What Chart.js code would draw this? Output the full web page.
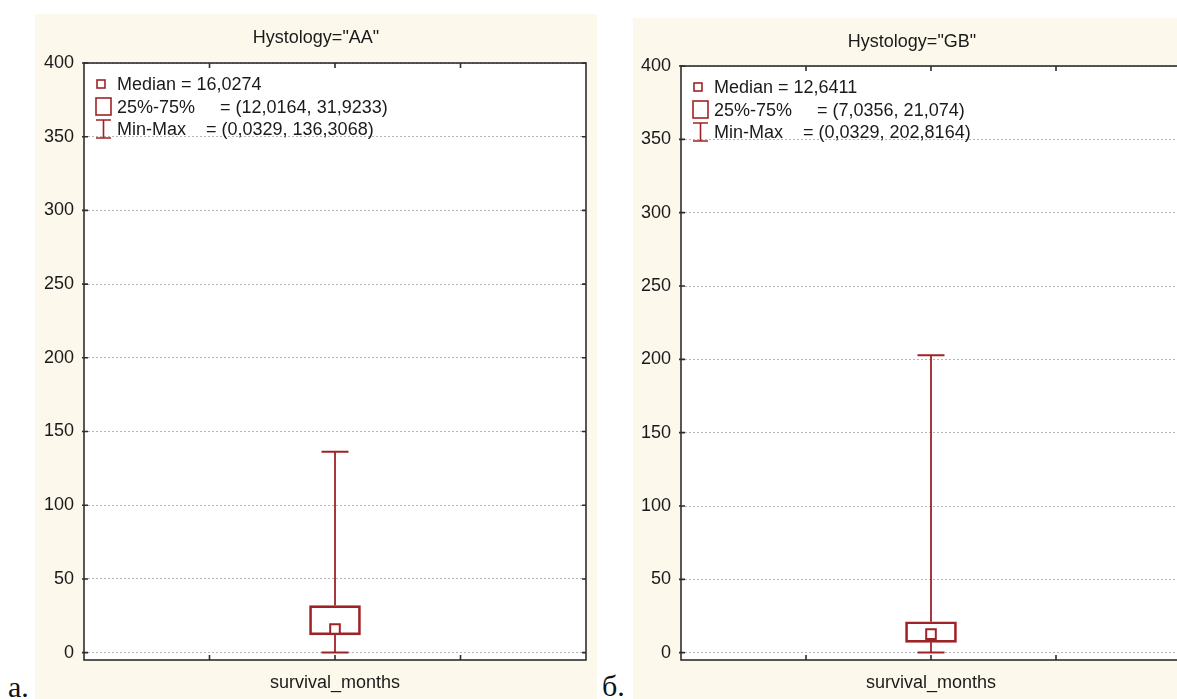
<!DOCTYPE html>
<html>
<head>
<meta charset="utf-8">
<script src="https://cdn.jsdelivr.net/npm/chart.js@4"></script>
<style>
  html, body { margin:0; padding:0; background:#ffffff; }
  html { overflow:hidden; }
  body { width:1177px; height:699px; overflow:hidden; position:relative; }
  .panel { position:absolute; background:#fdf8ec; overflow:hidden; }
  .inner { position:relative; }
  .inner canvas { display:block; }
  .tag { position:absolute; font-family:'Liberation Serif','Times New Roman',serif; font-size:30px; line-height:30px; color:#111; white-space:nowrap; }
</style>
</head>
<body>
<div class="panel" style="left:35px;top:14px;width:562px;height:685px;"><div class="inner" style="width:562px;height:685px;"><canvas id="ca"></canvas></div></div>
<div class="panel" style="left:633px;top:18px;width:544px;height:681px;"><div class="inner" style="width:558px;height:681px;"><canvas id="cb"></canvas></div></div>
<div class="tag" style="left:8px;top:672px;">a.</div>
<div class="tag" style="left:602px;top:671px;">б.</div>
<script>
// ---- data ----
const categories = ['', '', 'survival_months', '', ''];
const boxCategory = 'survival_months';
const panelTitles = ['Hystology="AA"', 'Hystology="GB"'];
const medianValues = [16.0274, 12.6411];
const q1Values = [12.0164, 7.0356];
const q3Values = [31.9233, 21.074];
const minValues = [0.0329, 0.0329];
const maxValues = [136.3068, 202.8164];
const yTickValues = [0, 50, 100, 150, 200, 250, 300, 350, 400];
const yMin = -5, yMax = 400;
const legendNames = ['Median', '25%-75%', 'Min-Max'];

// ---- styles ----
const RED = '#9e2327';
const FRAME = '#2e2e2e';
const TEXT = '#1a1a1a';
const FONT = "'Liberation Sans', Arial, sans-serif";

Chart.defaults.font.family = FONT;
Chart.defaults.font.size = 18;
Chart.defaults.color = TEXT;

const fmt = v => String(v).replace('.', ',');

const framePlugin = {
  id: 'frameAndLegend',
  beforeDatasetsDraw(chart) {
    const {ctx, chartArea: a} = chart;
    ctx.save();
    ctx.fillStyle = '#ffffff';
    ctx.fillRect(a.left, a.top, a.right - a.left, a.bottom - a.top);
    ctx.restore();
    chart.scales.y.drawGrid(a);
  },
  afterDraw(chart) {
    const {ctx, chartArea: a} = chart;
    const xs = chart.scales.x, ys = chart.scales.y;
    ctx.save();
    ctx.strokeStyle = FRAME;
    ctx.lineWidth = 1.6;
    ctx.strokeRect(a.left, a.top, a.right - a.left, a.bottom - a.top);
    ctx.beginPath();
    ys.ticks.forEach(t => {
      const y = ys.getPixelForValue(t.value);
      ctx.moveTo(a.left - 2, y); ctx.lineTo(a.left + 4, y);
      ctx.moveTo(a.right - 4, y); ctx.lineTo(a.right, y);
    });
    for (let i = 1; i < categories.length - 1; i++) {
      const x = xs.getPixelForValue(i);
      ctx.moveTo(x, a.bottom); ctx.lineTo(x, a.bottom - 5);
      ctx.moveTo(x, a.top); ctx.lineTo(x, a.top + 5);
    }
    ctx.stroke();

    // legend
    const lg = chart.options.plugins.frameAndLegend;
    ctx.strokeStyle = RED;
    ctx.lineWidth = 1.6;
    const L = a.left, T = a.top;
    ctx.strokeRect(L + 13, T + 17, 8, 8);
    ctx.strokeRect(L + 12, T + 35, 15, 17);
    ctx.beginPath();
    ctx.moveTo(L + 12, T + 57); ctx.lineTo(L + 27, T + 57);
    ctx.moveTo(L + 19.5, T + 57); ctx.lineTo(L + 19.5, T + 75);
    ctx.moveTo(L + 12, T + 75); ctx.lineTo(L + 27, T + 75);
    ctx.stroke();
    ctx.fillStyle = TEXT;
    ctx.font = '18px ' + FONT;
    ctx.textBaseline = 'alphabetic';
    ctx.textAlign = 'left';
    ctx.fillText(lg.lines[0], L + 33, T + 27);
    ctx.fillText(lg.lines[1], L + 33, T + 50);
    ctx.fillText(lg.lines[2], L + 33, T + 72);
    ctx.restore();
  }
};

function makeChart(canvasId, i, yWidth, titlePad, rightMargin) {
  const lines = [
    legendNames[0] + ' = ' + fmt(medianValues[i]),
    legendNames[1] + '     = (' + fmt(q1Values[i]) + ', ' + fmt(q3Values[i]) + ')',
    legendNames[2] + '    = (' + fmt(minValues[i]) + ', ' + fmt(maxValues[i]) + ')'
  ];
  const boxData = categories.map(c => c === boxCategory ? [q1Values[i], q3Values[i]] : null);
  return new Chart(document.getElementById(canvasId), {
    type: 'bar',
    data: {
      labels: categories,
      datasets: [
        {
          type: 'line', order: 0,
          data: [{x: boxCategory, y: medianValues[i]}],
          showLine: false, pointStyle: 'rect', pointRadius: 6.8,
          pointBackgroundColor: '#ffffff', pointBorderColor: RED, pointBorderWidth: 2
        },
        {
          type: 'line', order: 1,
          data: [{x: boxCategory, y: minValues[i]}, {x: boxCategory, y: q1Values[i]}],
          borderColor: RED, borderWidth: 1.8,
          pointStyle: 'line', pointRadius: [13.5, 0], pointBorderColor: RED, pointBorderWidth: 2
        },
        {
          type: 'line', order: 1,
          data: [{x: boxCategory, y: q3Values[i]}, {x: boxCategory, y: maxValues[i]}],
          borderColor: RED, borderWidth: 1.8,
          pointStyle: 'line', pointRadius: [0, 13.5], pointBorderColor: RED, pointBorderWidth: 2
        },
        {
          type: 'bar', order: 2,
          data: boxData,
          backgroundColor: 'rgba(255,255,255,0)',
          borderColor: RED, borderWidth: 2, borderSkipped: false,
          barThickness: 51
        }
      ]
    },
    options: {
      responsive: true,
      maintainAspectRatio: false,
      animation: false,
      events: [],
      layout: { autoPadding: false, padding: 0 },
      plugins: {
        legend: { display: false },
        tooltip: { enabled: false },
        title: {
          display: true, text: panelTitles[i], color: TEXT,
          font: { size: 18, family: FONT, weight: 'normal', lineHeight: 1.2 },
          padding: titlePad
        },
        frameAndLegend: { lines }
      },
      scales: {
        x: {
          type: 'category', offset: false,
          grid: { display: false },
          border: { display: false },
          ticks: { display: false },
          title: {
            display: true, text: boxCategory, color: TEXT,
            font: { size: 18, family: FONT, lineHeight: 1.2 },
            padding: { top: 0, bottom: 5 }
          },
          afterFit(s) { s.height = 39; }
        },
        y: {
          type: 'linear', min: yMin, max: yMax,
          ticks: { padding: 10, color: TEXT, font: { size: 18, family: FONT } },
          grid: { color: '#b4b4b4', lineWidth: 1, drawTicks: false },
          border: { display: false, dash: [2, 2] },
          afterBuildTicks(s) { s.ticks = yTickValues.map(v => ({ value: v })); },
          afterFit(s) { s.width = yWidth; }
        },
        yRight: {
          type: 'linear', position: 'right', display: true, min: yMin, max: yMax,
          ticks: { display: false },
          grid: { display: false, drawTicks: false },
          border: { display: false },
          afterFit(s) { s.width = rightMargin; }
        }
      }
    },
    plugins: [framePlugin]
  });
}

makeChart('ca', 0, 49, { top: 13, bottom: 14.4 }, 11);
makeChart('cb', 1, 48, { top: 13, bottom: 13.4 }, 10);
</script>
</body>
</html>
